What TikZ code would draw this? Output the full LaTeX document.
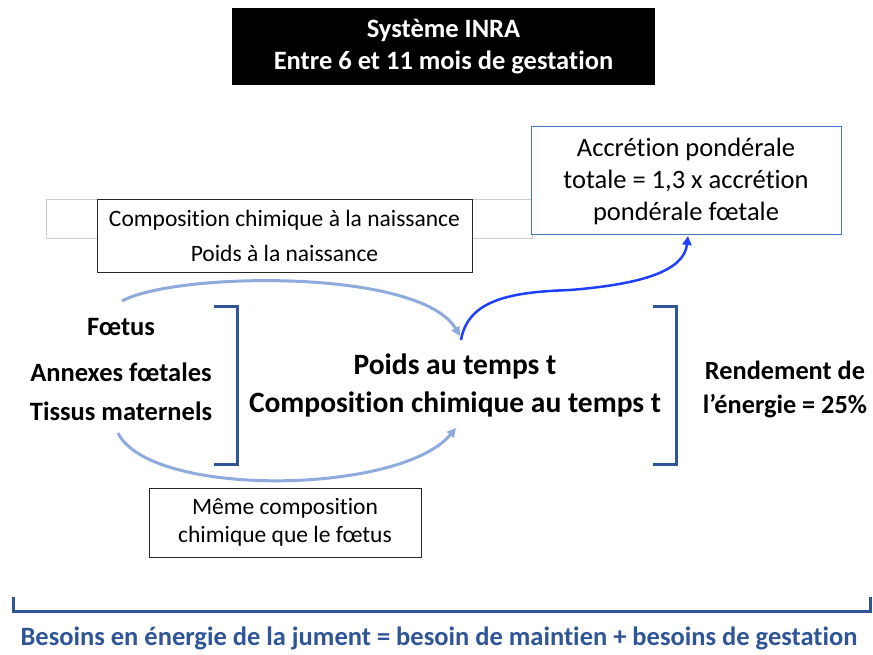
\documentclass[tikz,border=0pt]{standalone}
\usepackage{fontspec}
\setmainfont{Carlito}[Ligatures=NoCommon]
\usetikzlibrary{arrows.meta}
\definecolor{darkbl}{HTML}{2F5597}
\definecolor{lightbl}{HTML}{8FAADC}
\definecolor{vivbl}{HTML}{1F3FFF}
\definecolor{boxbl}{HTML}{4472C4}
\tikzset{
  plainbox/.style={draw=black!85, line width=1pt, inner sep=0pt, align=center, font=\fontsize{23.5}{35}\selectfont},
  brak/.style={draw=darkbl, line width=3pt},
  lightarc/.style={draw=lightbl, line width=3pt, -{Triangle[length=9pt,width=9pt]}},
  bluearc/.style={draw=vivbl, line width=2.5pt, -{Triangle[length=9pt,width=9pt]}},
  boldtxt/.style={font=\bfseries\fontsize{26.5}{42}\selectfont, align=center, inner sep=0pt},
}
\begin{document}
\begin{tikzpicture}[x=1pt,y=-1pt]
\useasboundingbox (0,0) rectangle (873,655);
% title
\node[fill=black, text=white, minimum width=423pt, minimum height=77pt, inner sep=0pt, align=center, font=\bfseries\fontsize{26.5}{32}\selectfont] (title) at (443.5,46.5) {Système INRA\\Entre 6 et 11 mois de gestation};
% gray rectangle behind
\node[draw=black!20, line width=0.8pt, minimum width=486pt, minimum height=39pt, inner sep=0pt] (grayr) at (289,218.5) {};
% composition box
\node[plainbox, fill=white, minimum width=375pt, minimum height=73pt] (compo) at (284.5,236) {Composition chimique à la naissance\\Poids à la naissance};
% accretion box
\node[draw=boxbl, line width=1pt, fill=white, minimum width=310pt, minimum height=108pt, inner sep=0pt, align=center, font=\fontsize{26.5}{32}\selectfont] (accr) at (686,181) {Accrétion pondérale\\totale = 1,3 x accrétion\\pondérale fœtale};
% left labels
\node[boldtxt] (fo) at (121,327) {Fœtus};
\node[boldtxt] (an) at (121,372) {Annexes fœtales};
\node[boldtxt] (ti) at (121,411) {Tissus maternels};
% left bracket
\draw[brak] (214,306) -- (237,306) -- (237,464) -- (214,464);
% centre text
\node[font=\bfseries\fontsize{29.5}{38}\selectfont, align=center, inner sep=0pt] (centre) at (455,385) {Poids au temps t\\Composition chimique au temps t};
% right bracket
\draw[brak] (653,306) -- (676,306) -- (676,464) -- (653,464);
% rendement
\node[font=\bfseries\fontsize{26.3}{34}\selectfont, align=center, inner sep=0pt] (rend) at (785,389) {Rendement de\\l’énergie = 25\%};
% meme box
\node[plainbox, minimum width=272pt, minimum height=69pt, font=\fontsize{23.5}{28}\selectfont] (meme) at (285,522.5) {Même composition\\chimique que le fœtus};
% arc coordinates
\coordinate (a1s) at (122,301);
\coordinate (a1e) at (460,336);
\coordinate (a2s) at (118,433);
\coordinate (a2e) at (456,428);
\coordinate (b1s) at (461,340);
\coordinate (b1m) at (570,290);
\coordinate (b1e) at (688,236);
\draw[lightarc] (a1s) .. controls (175,272) and (420,268) .. (a1e);
\draw[lightarc] (a2s) .. controls (150,498) and (400,495) .. (a2e);
\draw[bluearc] (b1s) .. controls (468,300) and (510,292) .. (b1m) .. controls (645,284) and (684,270) .. (b1e);
% bottom bracket
\draw[brak] (13,597) -- (13,611) -- (870,611) -- (870,597);
\node[font=\bfseries\fontsize{26.5}{28}\selectfont, text=darkbl, inner sep=0pt] (besoin) at (439,638) {Besoins en énergie de la jument = besoin de maintien + besoins de gestation};
\end{tikzpicture}
\end{document}
